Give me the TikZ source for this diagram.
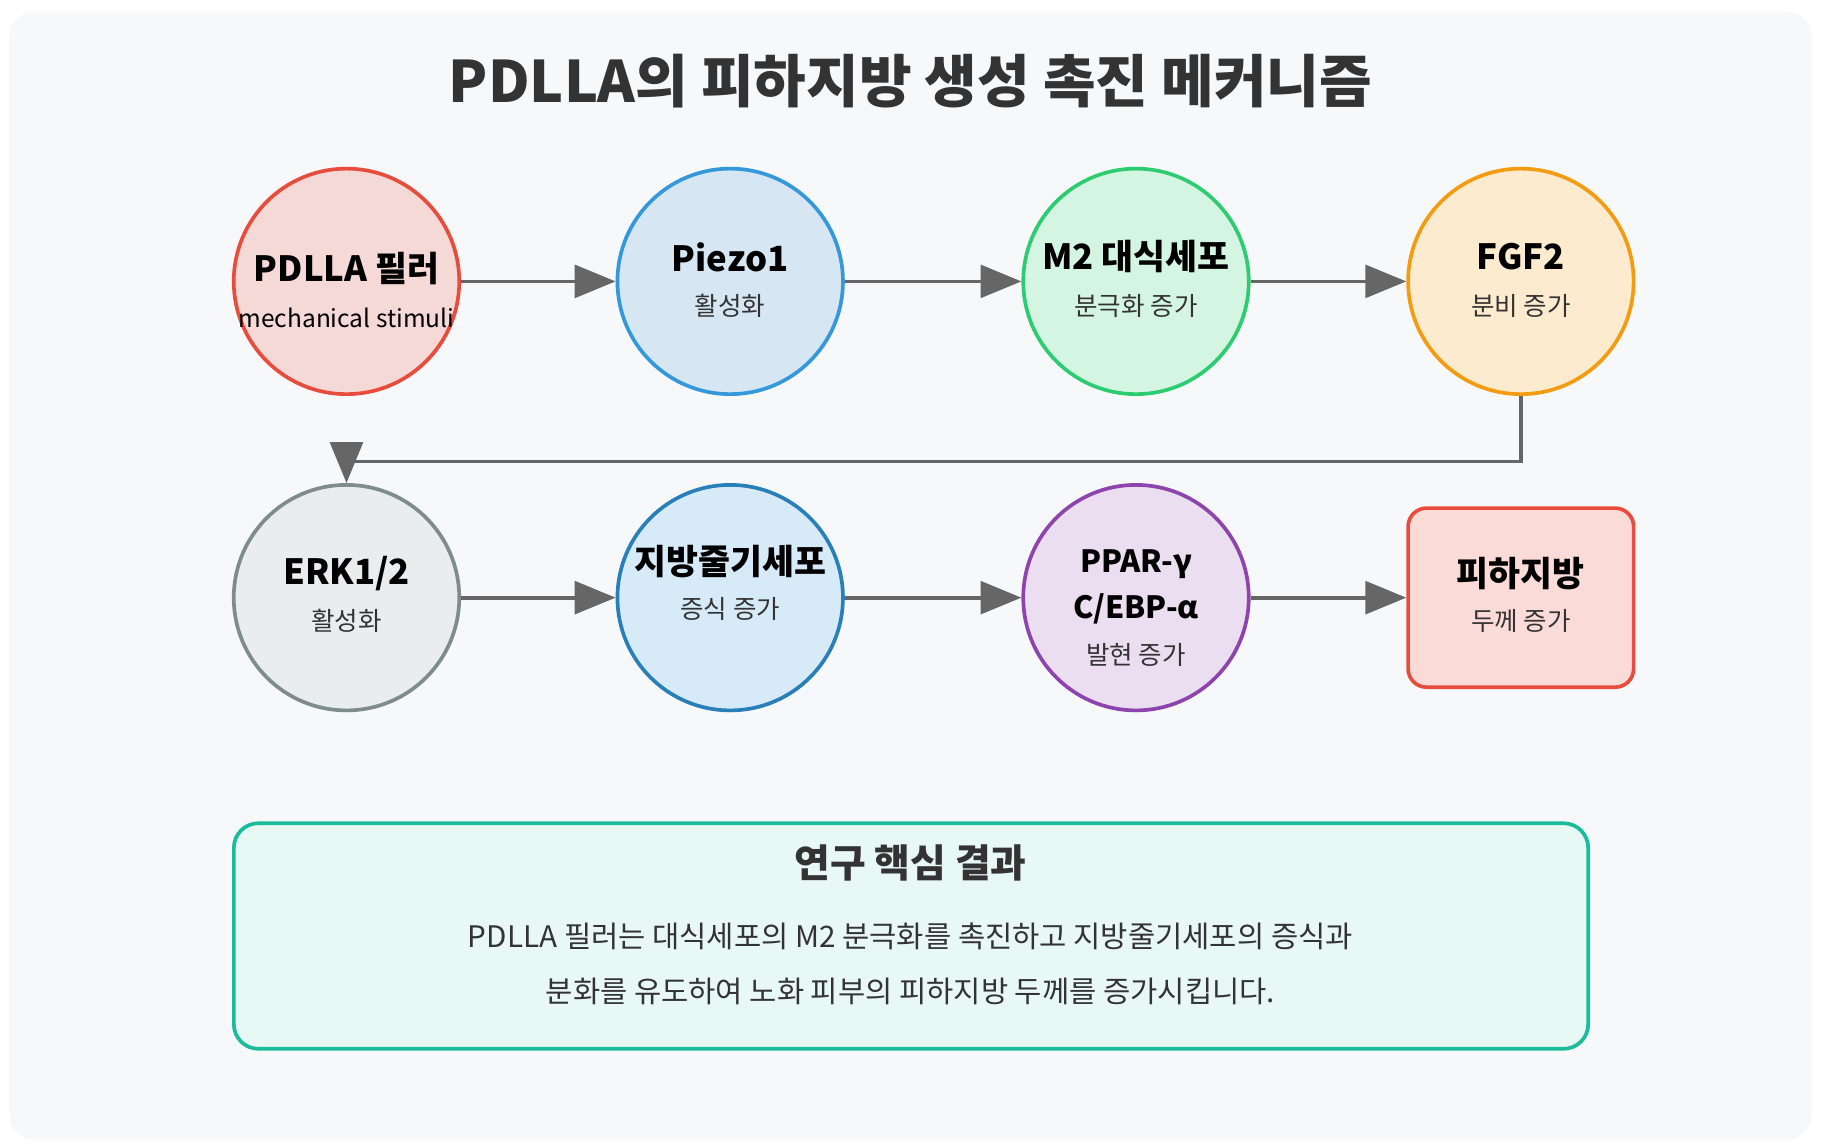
\documentclass[tikz,border=0pt]{standalone}
\usepackage{fontspec}
\setmainfont{Noto Sans CJK KR}
\usetikzlibrary{arrows.meta}
\definecolor{bg}{HTML}{F7F8FA}
\definecolor{ar}{HTML}{666666}
\definecolor{tx}{HTML}{333333}
\tikzset{
 x=0.02cm,y=-0.02cm,
 circ/.style={circle,minimum size=194\pgflinewidth,line width=1.8pt,minimum size=3.88cm,align=center,inner sep=0pt},
 conn/.style={draw=ar,line width=1.8pt,-{Triangle[length=20pt,width=16pt]}},
 big/.style={font=\fontsize{17}{20}\selectfont\bfseries},
 small/.style={font=\fontsize{12.5}{15}\selectfont},
}
\begin{document}
\begin{tikzpicture}
\useasboundingbox (0,0) rectangle (1567,985);
\fill[bg,rounded corners=12pt] (8,10) rectangle (1558,980);
\node[text=tx,font=\fontsize{28}{32}\selectfont\bfseries] (title) at (783,70) {PDLLA의 피하지방 생성 촉진 메커니즘};
\node[circ,draw={rgb,255:red,231;green,76;blue,60},fill={rgb,255:red,245;green,217;blue,215}] (a) at (298,242) {};
\node[big] at (298,231) {PDLLA 필러};
\node[small,font=\fontsize{12}{14}\selectfont] at (298,273) {mechanical stimuli};
\node[circ,draw={rgb,255:red,52;green,152;blue,219},fill={rgb,255:red,214;green,230;blue,243}] (b) at (628,242) {};
\node[big] at (628,221) {Piezo1};
\node[small,text=tx] at (628,263) {활성화};
\node[circ,draw={rgb,255:red,46;green,204;blue,113},fill={rgb,255:red,213;green,245;blue,227}] (c) at (977,242) {};
\node[big] at (977,221) {M2 대식세포};
\node[small,text=tx] at (977,263) {분극화 증가};
\node[circ,draw={rgb,255:red,243;green,156;blue,18},fill={rgb,255:red,253;green,235;blue,208}] (d) at (1308,242) {};
\node[big] at (1308,221) {FGF2};
\node[small,text=tx] at (1308,263) {분비 증가};
\node[circ,draw={rgb,255:red,127;green,140;blue,141},fill={rgb,255:red,233;green,237;blue,237}] (e) at (298,514) {};
\node[big] at (298,493) {ERK1/2};
\node[small,text=tx] at (298,534) {활성화};
\node[circ,draw={rgb,255:red,41;green,128;blue,185},fill={rgb,255:red,214;green,234;blue,248}] (f) at (628,514) {};
\node[big] at (628,483) {지방줄기세포};
\node[small,text=tx] at (628,524) {증식 증가};
\node[circ,draw={rgb,255:red,142;green,68;blue,173},fill={rgb,255:red,235;green,222;blue,240}] (g) at (977,514) {};
\node[big,font=\fontsize{15}{18}\selectfont\bfseries] at (977,485) {PPAR-γ};
\node[big,font=\fontsize{15}{18}\selectfont\bfseries] at (977,524) {C/EBP-α};
\node[small,text=tx] at (977,563) {발현 증가};
\node[draw={rgb,255:red,231;green,76;blue,60},fill={rgb,255:red,250;green,219;blue,216},line width=1.8pt,rounded corners=9pt,minimum width=3.88cm,minimum height=3.08cm] (h) at (1308,514) {};
\node[big] at (1308,493) {피하지방};
\node[small,text=tx] at (1308,534) {두께 증가};
\draw[conn] (a) -- (b);
\draw[conn] (b) -- (c);
\draw[conn] (c) -- (d);
\draw[conn] (e) -- (f);
\draw[conn] (f) -- (g);
\draw[conn] (g) -- (h);
\coordinate (t1) at (1308,397);
\coordinate (t2) at (298,397);
\draw[conn] (d.south) -- (t1) -- (t2) -- (e.north);
\node[draw={rgb,255:red,26;green,188;blue,156},fill={rgb,255:red,232;green,248;blue,245},line width=1.8pt,rounded corners=12pt,minimum width=23.3cm,minimum height=3.88cm] (box) at (783.5,805) {};
\node[text=tx,font=\fontsize{19}{22}\selectfont\bfseries] (bt) at (783,742) {연구 핵심 결과};
\node[text=tx,font=\fontsize{14.5}{17}\selectfont] (l1) at (783,805) {PDLLA 필러는 대식세포의 M2 분극화를 촉진하고 지방줄기세포의 증식과};
\node[text=tx,font=\fontsize{14.5}{17}\selectfont] (l2) at (783,853) {분화를 유도하여 노화 피부의 피하지방 두께를 증가시킵니다.};
\end{tikzpicture}
\end{document}
